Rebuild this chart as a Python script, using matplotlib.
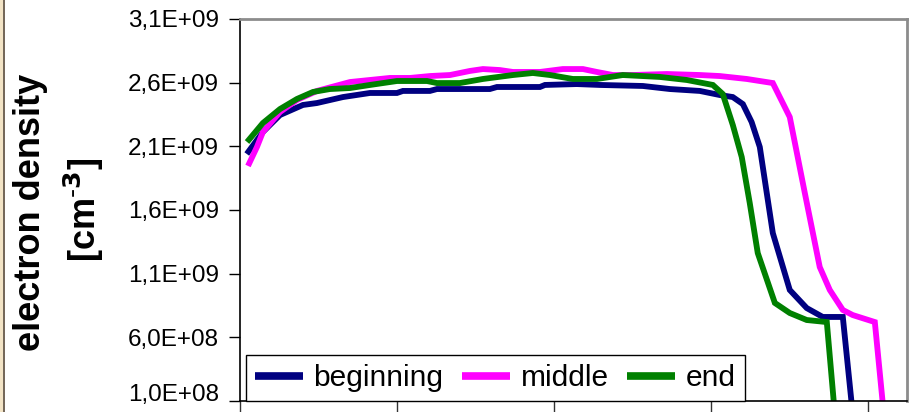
import matplotlib
matplotlib.use("Agg")
import matplotlib.pyplot as plt
import matplotlib.transforms as mtransforms
from matplotlib.ticker import FixedLocator, FuncFormatter
from matplotlib.patches import Rectangle
from matplotlib.lines import Line2D

plt.rcParams['font.family'] = ['Liberation Sans', 'DejaVu Sans']

# ---- data (x in arbitrary position units, y in 1e9 cm^-3) ----
beginning_x = [0.43, 1.46, 2.55, 4.01, 4.90, 6.56, 8.28, 10.0, 10.38, 12.10, 12.55, 15.92,
               16.37, 19.11, 19.43, 21.46, 22.93, 25.67, 27.39, 29.30, 30.57, 31.40, 32.04,
               32.6, 33.12, 33.95, 35.03, 36.11, 37.13, 38.41, 39.04]
beginning_y = [2.040, 2.213, 2.346, 2.425, 2.440, 2.487, 2.519, 2.519, 2.535, 2.535, 2.550, 2.550,
               2.566, 2.566, 2.582, 2.589, 2.582, 2.574, 2.550, 2.535, 2.503, 2.487, 2.432,
               2.291, 2.095, 1.419, 0.972, 0.830, 0.760, 0.760, 0.0]

middle_x = [0.51, 1.08, 1.46, 2.55, 3.63, 4.90, 7.01, 9.55, 10.83, 12.10, 13.38, 14.65, 15.48,
            16.56, 17.39, 19.11, 20.57, 21.85, 22.74, 23.76, 25.03, 27.20, 29.30, 30.57, 32.29,
            33.95, 35.03, 35.99, 36.94, 37.58, 38.41, 39.04, 40.45, 41.02]
middle_y = [1.946, 2.095, 2.213, 2.370, 2.464, 2.535, 2.605, 2.637, 2.637, 2.652, 2.660, 2.692, 2.707,
            2.699, 2.684, 2.684, 2.707, 2.707, 2.684, 2.660, 2.660, 2.668, 2.660, 2.652, 2.629,
            2.597, 2.330, 1.733, 1.152, 0.972, 0.815, 0.775, 0.720, 0.0]

end_x = [0.45, 1.46, 2.55, 3.63, 4.65, 5.73, 7.01, 8.28, 10.0, 11.91, 12.55, 14.01, 15.48, 17.39,
         18.66, 19.75, 21.21, 22.74, 24.39, 26.75, 28.47, 30.13, 30.76, 31.40, 31.97, 32.48,
         32.99, 34.08, 35.03, 36.11, 37.39, 37.90]
end_y = [2.134, 2.283, 2.393, 2.472, 2.527, 2.550, 2.558, 2.582, 2.613, 2.613, 2.597, 2.597, 2.629, 2.660,
         2.676, 2.660, 2.629, 2.629, 2.660, 2.645, 2.621, 2.582, 2.511, 2.268, 2.016, 1.655,
         1.262, 0.870, 0.791, 0.736, 0.720, 0.0]

series_names = ["beginning", "middle", "end"]
series_colors = ["#000080", "#FF00FF", "#008000"]

y_ticks = [1.0e8, 6.0e8, 1.1e9, 1.6e9, 2.1e9, 2.6e9, 3.1e9]
x_ticks = [0, 10, 20, 30, 40]

# ---- figure ----
W, H = 917, 412
fig = plt.figure(figsize=(W / 100, H / 100), dpi=100)
fig.patch.set_facecolor("white")

ax = fig.add_axes([240 / W, (H - 401) / H, (907 - 240) / W, (401 - 19) / H])

series = [(beginning_x, beginning_y), (middle_x, middle_y), (end_x, end_y)]
for (xs, ys), name, c in zip(series, series_names, series_colors):
    ax.plot(xs, [v * 1e9 for v in ys], color=c, lw=4.2, label=name,
            solid_joinstyle="miter", solid_capstyle="butt")

ax.set_xlim(0, 42.5)
ax.set_ylim(1.0e8, 3.1e9)
ax.yaxis.set_major_locator(FixedLocator(y_ticks))
ax.xaxis.set_major_locator(FixedLocator(x_ticks))
ax.yaxis.set_major_formatter(FuncFormatter(lambda v, p: f"{v:.1E}".replace(".", ",")))
ax.xaxis.set_major_formatter(FuncFormatter(lambda v, p: ""))
ax.tick_params(axis="y", direction="out", length=8, width=1, pad=7,
               labelsize=17.5, colors="black")
ax.tick_params(axis="x", direction="out", length=8, width=1, colors="#333333")

# bottom tick label sits just above its tick (as in the reference)
fig.canvas.draw()
lbl0 = ax.yaxis.get_major_ticks()[0].label1
lbl0.set_transform(lbl0.get_transform() +
                   mtransforms.ScaledTranslation(0, 8 / 100, fig.dpi_scale_trans))

for s in ["left", "bottom"]:
    ax.spines[s].set_color("black")
    ax.spines[s].set_linewidth(1.2)
for s in ["top", "right"]:
    ax.spines[s].set_color("#8c8c8c")
    ax.spines[s].set_linewidth(2)

leg = ax.legend(loc="lower left", bbox_to_anchor=(6 / 667, 0.0), ncol=3,
                fontsize=21.5, frameon=True, fancybox=False, framealpha=1,
                edgecolor="black", handlelength=1.6, handletextpad=0.36,
                columnspacing=0.62, borderpad=0.3, borderaxespad=0.0)
leg.get_frame().set_linewidth(1.0)
for ln in leg.get_lines():
    ln.set_linewidth(5.5)

# y label (two lines)
fig.text(30 / W, 1 - 212 / H, "electron density", rotation=90, ha="center", va="center",
         fontsize=26, fontweight="bold")
fig.text(84 / W, 1 - 210 / H, r"[cm$^{\text{-}\mathbf{3}}$]", rotation=90, ha="center",
         va="center", fontsize=26, fontweight="bold")

# left edge frame strip
fig.patches.append(Rectangle((0, 0), 3 / W, 1, transform=fig.transFigure,
                             facecolor="#F3E4C6", edgecolor="none"))
fig.lines.append(Line2D([3.5 / W, 3.5 / W], [0, 1], transform=fig.transFigure,
                        color="#5a4a3a", lw=1.2))

fig.savefig("out.png", dpi=100)
